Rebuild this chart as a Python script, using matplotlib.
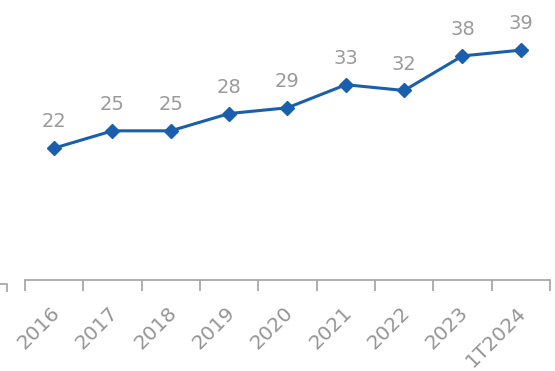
import matplotlib.pyplot as plt
import matplotlib.transforms as mtransforms
import numpy as np

# Series values per period
periods = ["2016", "2017", "2018", "2019", "2020", "2021", "2022", "2023", "1T2024"]
values = [22, 25, 25, 28, 29, 33, 32, 38, 39]

line_color = "#1a5fae"
text_color = "#9b9b9b"
axis_color = "#a8a8a8"

fig = plt.figure(figsize=(5.55, 3.71), dpi=100)
ax = fig.add_axes([0.045, 0.245, 0.946, 0.755])

x = np.arange(len(periods))
ax.plot(x, values, color=line_color, linewidth=2.2, marker="D", markersize=7,
        markerfacecolor=line_color, markeredgecolor=line_color, zorder=3)

# Value labels above each point
for xi, v in zip(x, values):
    ax.annotate(str(v), (xi, v), xytext=(0, 12), textcoords="offset points",
                ha="center", va="bottom", fontsize=14, color=text_color)

ax.set_xlim(-0.5, len(periods) - 0.5)
ax.set_ylim(-0.9, 47.7)

# Only the bottom axis line is shown, ticks sit between categories
for side in ["left", "right", "top"]:
    ax.spines[side].set_visible(False)
ax.spines["bottom"].set_color(axis_color)
ax.spines["bottom"].set_linewidth(1.3)
ax.set_yticks([])

ax.set_xticks(np.arange(len(periods) + 1) - 0.5)
ax.set_xticklabels([])
ax.tick_params(axis="x", direction="out", length=8, width=1.3, color=axis_color)

offset = mtransforms.ScaledTranslation(2 / 72, -21.5 / 72, fig.dpi_scale_trans)
for xi, label in zip(x, periods):
    ax.text(xi, 0, label, transform=ax.get_xaxis_transform() + offset,
            rotation=45, rotation_mode="anchor", ha="right", va="center",
            fontsize=14.5, color="#959595")

# Fragment of the neighbouring axis at the left edge
fig.add_artist(plt.Line2D([0.0, 0.013, 0.013], [0.234, 0.234, 0.215],
                          color=axis_color, linewidth=1.3))

fig.savefig("out.png", dpi=100)
